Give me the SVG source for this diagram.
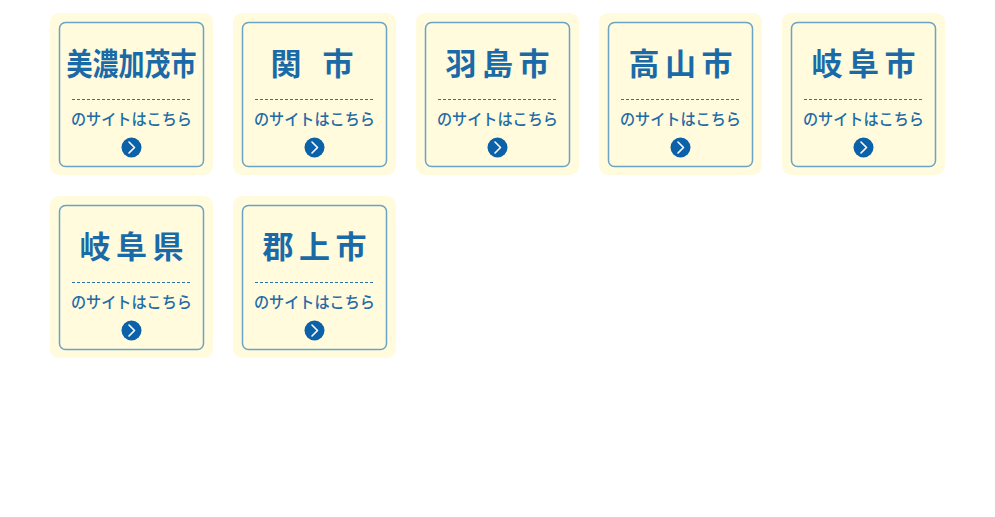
<svg xmlns="http://www.w3.org/2000/svg" width="995" height="517" viewBox="0 0 995 517">
<defs>
<style>
.outer{fill:#fffbdc;}
.inner{fill:#fffbdc;stroke:#6aa3c3;stroke-width:1.5;}
.title{font-family:"Noto Sans CJK JP","Noto Sans CJK SC",sans-serif;font-weight:bold;font-size:31px;fill:#1a6aa8;text-anchor:middle;}
.sub{font-family:"Noto Sans CJK JP","Noto Sans CJK SC",sans-serif;font-weight:500;font-size:16px;fill:#1f6ba8;text-anchor:middle;}
.dash{stroke:#2a74aa;stroke-width:1;stroke-dasharray:3 2;}
.btn{fill:#0b62a8;}
.chev{fill:none;stroke:#fff;stroke-width:1.6;stroke-linecap:round;stroke-linejoin:round;}
</style>
<g id="card">
<rect class="outer" x="0" y="0" width="163" height="162" rx="9"/>
<rect class="inner" x="9.5" y="9.5" width="144" height="144" rx="6"/>
<line class="dash" x1="22" y1="86.5" x2="141" y2="86.5"/>
<text class="sub" x="81.5" y="112" textLength="121" lengthAdjust="spacingAndGlyphs">のサイトはこちら</text>
<circle class="btn" cx="81.5" cy="134.5" r="10"/>
<polyline class="chev" points="79,129 84.5,134.5 79,140"/>
</g>
</defs>
<g id="node-minokamo">
<use href="#card" x="50" y="13"/>
<text class="title" x="131.5" y="75" textLength="130" lengthAdjust="spacingAndGlyphs">美濃加茂市</text>
</g>
<g id="node-seki">
<use href="#card" x="233" y="13"/>
<text class="title" x="286" y="75">関</text>
<text class="title" x="338" y="75">市</text>
</g>
<g id="node-hashima">
<use href="#card" x="416" y="13"/>
<text class="title" x="497.5" y="75" textLength="104" lengthAdjust="spacing">羽島市</text>
</g>
<g id="node-takayama">
<use href="#card" x="599" y="13"/>
<text class="title" x="680.5" y="75" textLength="104" lengthAdjust="spacing">高山市</text>
</g>
<g id="node-gifushi">
<use href="#card" x="782" y="13"/>
<text class="title" x="863.5" y="75" textLength="104" lengthAdjust="spacing">岐阜市</text>
</g>
<g id="node-gifuken">
<use href="#card" x="50" y="196"/>
<text class="title" x="131.5" y="258" textLength="104" lengthAdjust="spacing">岐阜県</text>
</g>
<g id="node-gujo">
<use href="#card" x="233" y="196"/>
<text class="title" x="314.5" y="258" textLength="104" lengthAdjust="spacing">郡上市</text>
</g>
<g id="connectors"></g>
</svg>
